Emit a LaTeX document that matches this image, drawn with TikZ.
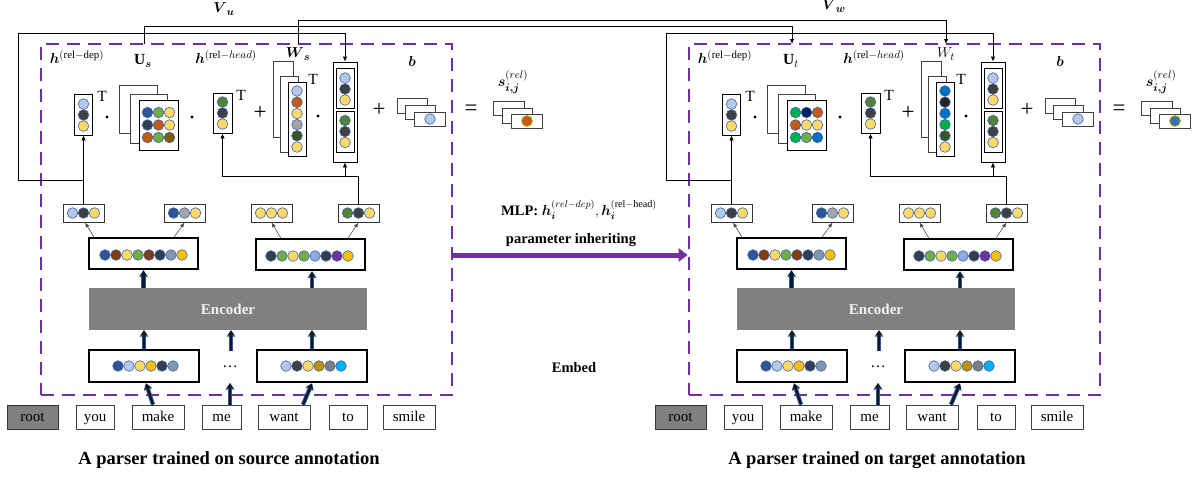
\documentclass[tikz,border=0pt]{standalone}
\usepackage{amsmath}
\usepackage{fontspec}
\setmainfont{Liberation Serif}
\usetikzlibrary{arrows.meta}
\definecolor{lb}{HTML}{B4C7E7}
\definecolor{dk}{HTML}{404040}
\definecolor{yl}{HTML}{FFD966}
\definecolor{gnA}{HTML}{548235}
\definecolor{bl}{HTML}{2F5597}
\definecolor{gnB}{HTML}{70AD47}
\definecolor{dkb}{HTML}{333F50}
\definecolor{orC}{HTML}{C55A11}
\definecolor{ol}{HTML}{7F6000}
\definecolor{gyA}{HTML}{A5A5A5}
\definecolor{dgA}{HTML}{375623}
\definecolor{br}{HTML}{843C0C}
\definecolor{gb}{HTML}{8497B0}
\definecolor{gd}{HTML}{FFC000}
\definecolor{lbB}{HTML}{8FAADC}
\definecolor{pu}{HTML}{7030A0}
\definecolor{dgold}{HTML}{BF9000}
\definecolor{gyB}{HTML}{7F7F7F}
\definecolor{cy}{HTML}{00B0F0}
\definecolor{gnC}{HTML}{00B050}
\definecolor{nv}{HTML}{002060}
\definecolor{blB}{HTML}{0070C0}
\definecolor{bk}{HTML}{262626}
\definecolor{sb}{HTML}{2E75B6}
\definecolor{cedge}{HTML}{3A62A8}
\definecolor{purp}{HTML}{7030A0}
\definecolor{navyd}{HTML}{101828}
\definecolor{rootgray}{HTML}{808080}
\definecolor{encgray}{HTML}{808080}
\tikzset{
 vbox/.style={draw=black, line width=0.8pt, fill=white, inner sep=0pt},
 bigbox/.style={draw=black, line width=2.6pt, fill=white, inner sep=0pt},
 smallbox/.style={draw=black!80, line width=0.9pt, fill=white, inner sep=0pt, minimum width=41pt, minimum height=18pt},
 wordbox/.style={draw=black!75, line width=0.9pt, fill=white, inner sep=0pt, minimum height=24pt, text height=10pt, text depth=1pt, font=\fontsize{15}{18}\selectfont},
 stackframe/.style={draw=black!75, line width=0.9pt, fill=white},
 circ/.style={draw=cedge, line width=0.6pt},
 lbl/.style={inner sep=0pt, font=\fontsize{15.5}{18}\selectfont},
 midlbl/.style={inner sep=0pt, font=\bfseries\fontsize{14.5}{17}\selectfont},
 sym/.style={inner sep=0pt, font=\fontsize{23}{26}\selectfont},
 dotn/.style={circle, fill=black, inner sep=0pt, minimum size=3.4pt},
 wire/.style={draw=black, line width=0.8pt},
 wirearr/.style={wire, -{Latex[length=5pt,width=4.5pt]}},
 thinarr/.style={draw=black!70, line width=0.6pt, -{Latex[length=5pt,width=4pt]}},
 encarr/.style={preaction={draw=bl, line width=4.2pt, -{Triangle[length=6.5pt,width=8.5pt]}}, draw=navyd, line width=2.2pt, -{Triangle[length=5pt,width=6pt]}},
 panelbox/.style={draw=purp, line width=2.6pt, dash pattern=on 13pt off 8pt, inner sep=0pt},
 encoderbox/.style={fill=encgray, inner sep=0pt, minimum width=278pt, minimum height=42pt, text=white!95!black, font=\bfseries\fontsize{15}{17}\selectfont},
 captxt/.style={inner sep=0pt, font=\bfseries\fontsize{18.5}{22}\selectfont},
}
\newcommand\vcircles[5]{%
 \foreach \cc [count=\ii from 0] in {#5} {\filldraw[circ, fill=\cc] ({#1+\ii*#3},{#2+\ii*#4}) circle[radius=5.3pt];}}
\newcommand\parserpanel[8]{%
\begin{scope}[xshift=#2]
\node[panelbox, minimum width=411pt, minimum height=351pt] (#1panel) at (246.5,219.5) {};
% labels
\node[lbl] (#1lhd) at (77,57) {$\boldsymbol{h}^{(\mathrm{rel}-\mathrm{dep})}$};
\node[lbl] (#1lU) at (143,61) {#3};
\node[lbl] (#1lhh) at (226,57) {$\boldsymbol{h}^{(\mathrm{rel}-head)}$};
\node[lbl] (#1lW) at (298,54) {#4};
\node[lbl] (#1lb) at (412,61) {$\boldsymbol{b}$};
% h dep
\node[vbox, minimum width=18pt, minimum height=41pt] (#1hdep) at (83.5,114.5) {};
\vcircles{83.5}{104}{0}{11}{lb,dk,yl}
\node[lbl] (#1Ta) at (102,96) {T};
\node[dotn] (#1da) at (107,117) {};
% U tensor
\draw[stackframe] (119,85) rectangle (157,133);
\draw[stackframe] (130,94) rectangle (167,143);
\node[vbox, minimum width=39pt, minimum height=50pt] (#1U) at (158.5,125) {};
\foreach \cc [count=\ii from 0] in {#5} {\pgfmathsetmacro\cx{147.5+11*mod(\ii,3)}\pgfmathsetmacro\cy{112.5+12.5*floor(\ii/3)}\filldraw[circ,fill=\cc] (\cx,\cy) circle[radius=5.3pt];}
\node[dotn] (#1db) at (192,117) {};
% h head
\node[vbox, minimum width=19pt, minimum height=40pt] (#1hhead) at (222.5,113) {};
\vcircles{222.5}{102}{0}{11}{gnA,dk,yl}
\node[lbl] (#1Tb) at (241,95) {T};
\node[sym] (#1pa) at (260,113) {+};
% W
\draw[stackframe] (273,61) rectangle (293,137);
\draw[stackframe] (280,76) rectangle (298,152);
\node[vbox, minimum width=18pt, minimum height=74pt] (#1W) at (297,119) {};
\vcircles{297}{91}{0}{11.2}{#6}
\node[lbl] (#1Tc) at (313,79) {T};
\node[dotn] (#1dc) at (318,116) {};
% concatenation
\node[vbox, minimum width=24pt, minimum height=100pt] (#1cat) at (345,112) {};
\node[vbox, minimum width=18pt, minimum height=40pt] (#1catA) at (345,88) {};
\vcircles{345}{78}{0}{11}{lb,dk,yl}
\node[vbox, minimum width=18pt, minimum height=41pt] (#1catB) at (345,131.5) {};
\vcircles{345}{120.5}{0}{11}{gnA,dk,yl}
% b
\node[sym] (#1pb) at (379,110) {+};
\draw[stackframe] (397,98) rectangle (427,113);
\draw[stackframe] (405,105) rectangle (435,119);
\node[vbox, draw=black!75, minimum width=31pt, minimum height=14pt] (#1b) at (429.5,119) {};
\filldraw[circ, fill=lb] (430,119) circle[radius=5.3pt];
% result
\node[sym] (#1eq) at (471,110) {=};
\node[lbl] (#1ls) at (513,82) {$\boldsymbol{s}^{(rel)}_{\boldsymbol{i,j}}$};
\draw[stackframe] (493,101) rectangle (524,115);
\draw[stackframe] (502,108) rectangle (532,123);
\node[vbox, draw=black!75, minimum width=31pt, minimum height=14pt] (#1s) at (526.5,121) {};
\filldraw[draw=dgold, line width=0.9pt, fill=#7] (527,121) circle[radius=5.3pt];
% MLP outputs
\node[smallbox] (#1sa) at (83.5,213) {};
\vcircles{72.5}{213}{11}{0}{lb,dk,yl}
\node[smallbox] (#1sb) at (184.5,213) {};
\vcircles{173.5}{213}{11}{0}{bl,gyA,yl}
\node[smallbox] (#1sc) at (271.5,213) {};
\vcircles{260.5}{213}{11}{0}{yl,yl,yl}
\node[smallbox] (#1sd) at (358.5,213) {};
\vcircles{347.5}{213}{11}{0}{gnA,dk,yl}
% encoder outputs
\node[bigbox, minimum width=109pt, minimum height=31pt] (#1bA) at (143.5,253.5) {};
\vcircles{105}{255}{11}{0}{bl,br,yl,gnB,br,dkb,gb,gd}
\node[bigbox, minimum width=109pt, minimum height=31pt] (#1bB) at (310.5,254.5) {};
\vcircles{271}{256}{11}{0}{dkb,gnB,yl,gnB,lbB,dkb,pu,gd}
\node[encoderbox] (#1enc) at (228,309) {Encoder};
% embeddings
\node[bigbox, minimum width=110pt, minimum height=32pt] (#1lA) at (144,366) {};
\vcircles{118}{366}{11}{0}{bl,lb,yl,gd,dkb,gb}
\node[lbl] (#1dots) at (230,367) {…};
\node[bigbox, minimum width=110pt, minimum height=32pt] (#1lB) at (312,366) {};
\vcircles{286}{366}{11}{0}{lb,dk,yl,dgold,gyB,cy}
% words
\node[wordbox, fill=rootgray, draw=black!80, minimum width=51pt] (#1wa) at (32.5,417) {root};
\node[wordbox, minimum width=38pt] (#1wb) at (95,417) {you};
\node[wordbox, minimum width=52pt] (#1wc) at (158,417) {make};
\node[wordbox, minimum width=39pt] (#1wd) at (221.5,417) {me};
\node[wordbox, minimum width=52pt] (#1we) at (284,417) {want};
\node[wordbox, minimum width=38pt] (#1wf) at (348,417) {to};
\node[wordbox, minimum width=52pt] (#1wg) at (409,417) {smile};
\node[captxt] (#1cap) at (229,460) {#8};
% word -> embedding arrows
\coordinate (#1meTop) at (230,383);
\draw[encarr] ([xshift=-5pt]#1wc.north) -- ([xshift=2pt]#1lA.south);
\draw[encarr] ([xshift=8.5pt]#1wd.north) -- (#1meTop);
\draw[encarr] ([xshift=19pt]#1we.north) -- (#1lB.south);
% embedding -> encoder
\draw[encarr] (#1lA.north) -- (#1lA.north |- #1enc.south);
\draw[encarr] ([xshift=3pt,yshift=-21pt]#1enc.south) -- ([xshift=3pt]#1enc.south);
\draw[encarr] (#1lB.north) -- (#1lB.north |- #1enc.south);
% encoder -> outputs
\draw[encarr] (#1bA.south |- #1enc.north) -- (#1bA.south);
\draw[encarr] ([xshift=1.5pt]#1bB.south |- #1enc.north) -- ([xshift=1.5pt]#1bB.south);
% outputs -> MLP vectors
\draw[thinarr] ([xshift=6pt]#1bA.north west) -- ([xshift=1.5pt]#1sa.south);
\draw[thinarr] ([xshift=-25pt]#1bA.north east) -- (#1sb.south);
\draw[thinarr] ([xshift=26pt]#1bB.north west) -- (#1sc.south);
\draw[thinarr] ([xshift=-18pt]#1bB.north east) -- (#1sd.south);
% feedback wires
\coordinate (#1ja) at (83.5,180);
\coordinate (#1ca) at (18,33);
\coordinate (#1jb) at (358.5,176);
\draw[wirearr] (#1sa.north) -- (#1hdep.south);
\draw[wirearr] (#1ja) -| (#1ca) -| (#1cat.north);
\draw[wirearr] (#1sd.north) -- (#1jb) -| (#1hhead.south);
\draw[wirearr] (#1cat.south |- #1jb) -- (#1cat.south);
\coordinate (#1Utop) at (144,44);
\coordinate (#1Wtop) at (298,44);
\end{scope}}
\begin{document}
\begin{tikzpicture}[x=1pt,y=-1pt]
\useasboundingbox (0,0) rectangle (1194,477);
\parserpanel{L}{0pt}{$\mathbf{U}_{\boldsymbol{s}}$}{$\boldsymbol{W}_{\boldsymbol{s}}$}{bl,gnB,yl,dkb,orC,yl,orC,gnB,ol}{lb,orC,yl,gyA,dgA,yl}{orC}{A parser trained on source annotation}
\parserpanel{R}{648pt}{$\mathbf{U}_{t}$}{$W_{t}$}{gnC,nv,orC,orC,yl,yl,gnC,gnB,blB}{blB,bk,blB,gnC,dgA,yl}{sb}{A parser trained on target annotation}
% cross-panel wires
\draw[wirearr] (LUtop) -- ++(0,-18) -| (RUtop);
\draw[wirearr] (LWtop) -- ++(0,-24) -| (RWtop);
\node[lbl] (vu) at (224,9) {$\boldsymbol{V}_{\boldsymbol{u}}$};
\node[lbl] (vw) at (834,6) {$\boldsymbol{V}_{\boldsymbol{w}}$};
% middle
\node[midlbl] (mlp) at (579,210) {MLP: $\boldsymbol{h}_{\boldsymbol{i}}^{(rel-dep)}, \boldsymbol{h}_{\boldsymbol{i}}^{(\mathrm{rel-head})}$};
\node[midlbl] (inh) at (571,240) {parameter inheriting};
\node[midlbl] (emb) at (574,368) {Embed};
\coordinate (marrow) at (0,255);
\draw[line width=5pt, draw=purp, -{Triangle[length=9pt,width=13pt]}] (Lpanel.east |- marrow) -- (Rpanel.west |- marrow);
\end{tikzpicture}
\end{document}
